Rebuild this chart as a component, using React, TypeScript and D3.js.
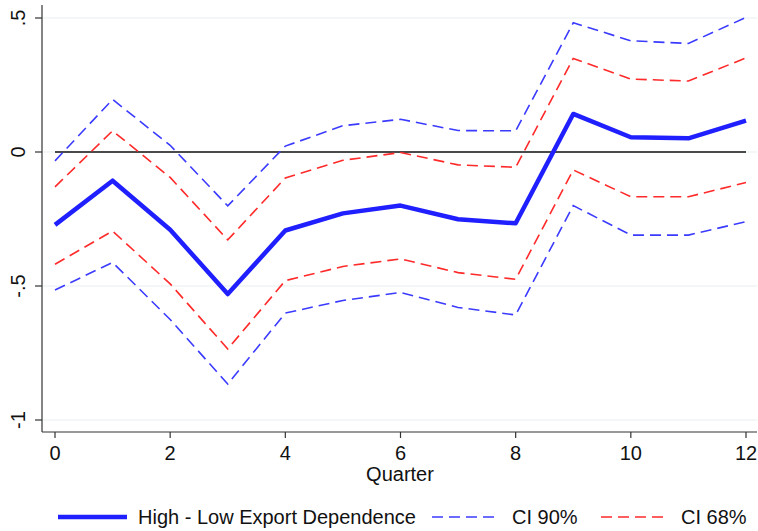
import React from "react";
import * as d3 from "d3";

const quarters = [0, 1, 2, 3, 4, 5, 6, 7, 8, 9, 10, 11, 12];
const estimate = [-0.272, -0.107, -0.29, -0.53, -0.293, -0.229, -0.2, -0.251, -0.266, 0.142, 0.055, 0.051, 0.117];
const upper90 = [-0.033, 0.196, 0.025, -0.201, 0.022, 0.098, 0.122, 0.08, 0.079, 0.482, 0.415, 0.405, 0.502];
const lower90 = [-0.515, -0.412, -0.625, -0.866, -0.601, -0.554, -0.524, -0.58, -0.608, -0.2, -0.31, -0.31, -0.26];
const upper68 = [-0.13, 0.079, -0.095, -0.328, -0.097, -0.031, -0.002, -0.048, -0.057, 0.349, 0.272, 0.265, 0.351];
const lower68 = [-0.419, -0.295, -0.492, -0.735, -0.48, -0.427, -0.399, -0.45, -0.475, -0.067, -0.167, -0.167, -0.114];
const xTicks = [0, 2, 4, 6, 8, 10, 12];
const yTicks = [0.5, 0, -0.5, -1];
const yTickLabels = [".5", "0", "-.5", "-1"];
const legendLabels = ["High - Low Export Dependence", "CI 90%", "CI 68%"];

const W = 758, H = 531;
const FONT = "'Liberation Sans', Arial, Helvetica, sans-serif";
const BLUE = "#1f1fff";
const DBLUE = "#3b3bff";
const RED = "#ff2a2a";
const FS = 20;

export default function App() {
  const x = d3.scaleLinear().domain([0, 12]).range([55, 746]);
  const y = d3.scaleLinear().domain([0, -1]).range([152, 420]);
  const line = d3.line<number>().x((_, i) => x(quarters[i])).y((d) => y(d));
  const axisL = 42, axisB = 432, plotR = 757;

  return (
    <svg width={W} height={H} style={{ position: "absolute", left: 0, top: 0, background: "#fff" }} fontFamily={FONT}>
      <rect x={0} y={0} width={W} height={H} fill="#fff" />
      {yTicks.map((t) => (
        <line key={"g" + t} x1={axisL} x2={plotR} y1={y(t)} y2={y(t)} stroke="#e8eff1" strokeWidth={1.2} />
      ))}
      <line x1={x(0)} x2={x(12)} y1={y(0)} y2={y(0)} stroke="#111" strokeWidth={1.5} />
      <path d={line(upper90) || ""} fill="none" stroke={DBLUE} strokeWidth={1.6} strokeDasharray="11,6" />
      <path d={line(lower90) || ""} fill="none" stroke={DBLUE} strokeWidth={1.6} strokeDasharray="11,6" />
      <path d={line(upper68) || ""} fill="none" stroke={RED} strokeWidth={1.6} strokeDasharray="11,6" />
      <path d={line(lower68) || ""} fill="none" stroke={RED} strokeWidth={1.6} strokeDasharray="11,6" />
      <path d={line(estimate) || ""} fill="none" stroke={BLUE} strokeWidth={4.5} strokeLinejoin="round" />
      <line x1={axisL} x2={axisL} y1={5} y2={axisB} stroke="#333" strokeWidth={1.2} />
      <line x1={axisL} x2={plotR} y1={axisB} y2={axisB} stroke="#333" strokeWidth={1.2} />
      {yTicks.map((t, i) => (
        <g key={"y" + t}>
          <line x1={35} x2={axisL} y1={y(t)} y2={y(t)} stroke="#333" strokeWidth={1.2} />
          <text transform={`translate(25,${y(t)}) rotate(-90)`} textAnchor="middle" fontSize={FS} fill="#111">
            {yTickLabels[i]}
          </text>
        </g>
      ))}
      {xTicks.map((t) => (
        <g key={"x" + t}>
          <line x1={x(t)} x2={x(t)} y1={axisB} y2={axisB + 6} stroke="#333" strokeWidth={1.2} />
          <text x={x(t)} y={460} textAnchor="middle" fontSize={FS} fill="#111">{t}</text>
        </g>
      ))}
      <text x={400} y={481} textAnchor="middle" fontSize={FS} fill="#111">Quarter</text>
      <line x1={58} x2={127} y1={517} y2={517} stroke={BLUE} strokeWidth={4.5} />
      <text x={138} y={524} fontSize={FS} fill="#111">{legendLabels[0]}</text>
      <line x1={432} x2={496} y1={517} y2={517} stroke={DBLUE} strokeWidth={1.6} strokeDasharray="11,6" />
      <text x={512} y={524} fontSize={FS} fill="#111">{legendLabels[1]}</text>
      <line x1={601} x2={665} y1={517} y2={517} stroke={RED} strokeWidth={1.6} strokeDasharray="11,6" />
      <text x={681} y={524} fontSize={FS} fill="#111">{legendLabels[2]}</text>
    </svg>
  );
}
